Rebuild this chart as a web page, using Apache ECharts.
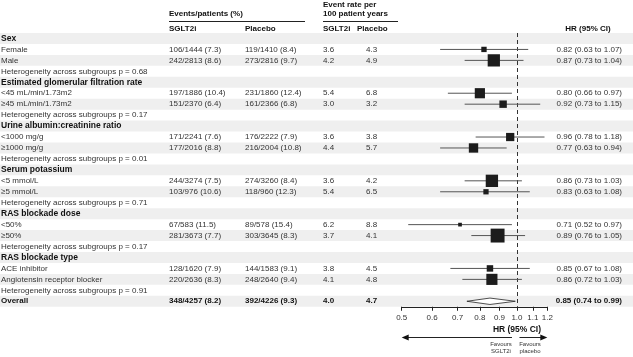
<!DOCTYPE html>
<html>
<head>
<meta charset="utf-8">
<script src="https://cdn.jsdelivr.net/npm/echarts@6/dist/echarts.min.js"></script>
<style>
html, body { margin: 0; padding: 0; background: #fff; }
#chart { width: 633px; height: 357px; }
</style>
</head>
<body>
<div id="chart"></div>
<script>
// row labels, top to bottom
var labels = ['Sex', 'Female', 'Male', 'Heterogeneity across subgroups p = 0.68',
    'Estimated glomerular filtration rate', '<45 mL/min/1.73m2', '\u226545 mL/min/1.73m2', 'Heterogeneity across subgroups p = 0.17',
    'Urine albumin:creatinine ratio', '<1000 mg/g', '\u22651000 mg/g', 'Heterogeneity across subgroups p = 0.01',
    'Serum potassium', '<5 mmol/L', '\u22655 mmol/L', 'Heterogeneity across subgroups p = 0.71',
    'RAS blockade dose', '<50%', '\u226550%', 'Heterogeneity across subgroups p = 0.17',
    'RAS blockade type', 'ACE inhibitor', 'Angiotensin receptor blocker', 'Heterogeneity across subgroups p = 0.91',
    'Overall'];
var boldRows = [0, 4, 8, 12, 16, 20, 24];
var overallRow = 24;

var sgltEvents = [null, 106, 242, null, null, 197, 151, null, null, 171, 177, null, null, 244, 103, null, null, 67, 281, null, null, 128, 220, null, 348];
var sgltPatients = [null, 1444, 2813, null, null, 1886, 2370, null, null, 2241, 2016, null, null, 3274, 976, null, null, 583, 3673, null, null, 1620, 2636, null, 4257];
var sgltPct = [null, 7.3, 8.6, null, null, 10.4, 6.4, null, null, 7.6, 8.8, null, null, 7.5, 10.6, null, null, 11.5, 7.7, null, null, 7.9, 8.3, null, 8.2];
var placeboEvents = [null, 119, 273, null, null, 231, 161, null, null, 176, 216, null, null, 274, 118, null, null, 89, 303, null, null, 144, 248, null, 392];
var placeboPatients = [null, 1410, 2816, null, null, 1860, 2366, null, null, 2222, 2004, null, null, 3260, 960, null, null, 578, 3645, null, null, 1583, 2640, null, 4226];
var placeboPct = [null, 8.4, 9.7, null, null, 12.4, 6.8, null, null, 7.9, 10.8, null, null, 8.4, 12.3, null, null, 15.4, 8.3, null, null, 9.1, 9.4, null, 9.3];
var rateSglt = [null, 3.6, 4.2, null, null, 5.4, 3.0, null, null, 3.6, 4.4, null, null, 3.6, 5.4, null, null, 6.2, 3.7, null, null, 3.8, 4.1, null, 4.0];
var ratePlacebo = [null, 4.3, 4.9, null, null, 6.8, 3.2, null, null, 3.8, 5.7, null, null, 4.2, 6.5, null, null, 8.8, 4.1, null, null, 4.5, 4.8, null, 4.7];
var hr = [null, 0.82, 0.87, null, null, 0.80, 0.92, null, null, 0.96, 0.77, null, null, 0.86, 0.83, null, null, 0.71, 0.89, null, null, 0.85, 0.86, null, 0.85];
var hrLow = [null, 0.63, 0.73, null, null, 0.66, 0.73, null, null, 0.78, 0.63, null, null, 0.73, 0.63, null, null, 0.52, 0.76, null, null, 0.67, 0.72, null, 0.74];
var hrHigh = [null, 1.07, 1.04, null, null, 0.97, 1.15, null, null, 1.18, 0.94, null, null, 1.03, 1.08, null, null, 0.97, 1.05, null, null, 1.08, 1.03, null, 0.99];
var hrTicks = [0.5, 0.6, 0.7, 0.8, 0.9, 1.0, 1.1, 1.2];

var FONT = '"Liberation Sans", Arial, Helvetica, sans-serif';
var TXT = '#333';
var rows = labels.map(function (l, i) { return String(i); });

function f1(v) { return v.toFixed(1); }
function f2(v) { return v.toFixed(2); }

// text cells: [row, x, text, align]
var cells = [];
labels.forEach(function (lab, i) {
    cells.push([i, 1, lab, 'left']);
    if (sgltEvents[i] == null) return;
    cells.push([i, 169, sgltEvents[i] + '/' + sgltPatients[i] + ' (' + f1(sgltPct[i]) + ')', 'left']);
    cells.push([i, 245, placeboEvents[i] + '/' + placeboPatients[i] + ' (' + f1(placeboPct[i]) + ')', 'left']);
    cells.push([i, 323, f1(rateSglt[i]), 'left']);
    cells.push([i, 366, f1(ratePlacebo[i]), 'left']);
    cells.push([i, 622, f2(hr[i]) + ' (' + f2(hrLow[i]) + ' to ' + f2(hrHigh[i]) + ')', 'right']);
});

var forestData = [];
hr.forEach(function (v, i) {
    if (v == null) return;
    forestData.push([i, v, hrLow[i], hrHigh[i], (sgltEvents[i] + placeboEvents[i]) / 42]);
});

var chart = echarts.init(document.getElementById('chart'), null, { renderer: 'canvas' });

var TOP = 33, H = 273.75;

var option = {
    backgroundColor: '#fff',
    animation: false,
    textStyle: { fontFamily: FONT },
    grid: [
        { left: 0, right: 0, top: TOP, height: H },
        { left: 401.7, right: 85.7, top: TOP, height: H }
    ],
    xAxis: [
        { gridIndex: 0, type: 'value', min: 0, max: 633, show: false },
        {
            gridIndex: 1, type: 'log', logBase: 10, min: 0.5, max: 1.2,
            splitLine: { show: false },
            axisLine: { show: true, lineStyle: { color: '#222', width: 1 } },
            axisTick: { show: true, customValues: hrTicks, length: 4, lineStyle: { color: '#222' } },
            axisLabel: {
                customValues: hrTicks, margin: 7, color: '#333', fontSize: 8, fontFamily: FONT,
                formatter: function (v) { return Number(v).toFixed(1); }
            }
        }
    ],
    yAxis: [
        { gridIndex: 0, type: 'category', data: rows, inverse: true, show: false },
        { gridIndex: 1, type: 'category', data: rows, inverse: true, show: false }
    ],
    series: [
        {
            // zebra stripes
            type: 'custom', xAxisIndex: 0, yAxisIndex: 0, z: 0, silent: true,
            data: rows.map(function (r, i) { return [i]; }).filter(function (d) { return d[0] % 2 === 0; }),
            renderItem: function (params, api) {
                var p = api.coord([0, api.value(0)]);
                var h = api.size([0, 1])[1];
                return { type: 'rect', shape: { x: 0, y: p[1] - h / 2, width: 633, height: h }, style: { fill: '#efefef' } };
            }
        },
        {
            // table text
            type: 'custom', xAxisIndex: 0, yAxisIndex: 0, z: 5, silent: true,
            data: cells,
            renderItem: function (params, api) {
                var c = cells[params.dataIndex];
                var p = api.coord([c[1], c[0]]);
                var bold = boldRows.indexOf(c[0]) >= 0;
                var font = bold
                    ? 'bold ' + (c[0] !== overallRow && c[1] === 1 ? '8.5px ' : '8px ') + FONT
                    : '8px ' + FONT;
                return {
                    type: 'text', x: p[0], y: p[1],
                    style: {
                        text: c[2], textAlign: c[3], textVerticalAlign: 'middle',
                        font: font, fill: bold ? '#111' : TXT
                    }
                };
            }
        },
        {
            // whiskers, squares, diamond
            type: 'custom', xAxisIndex: 1, yAxisIndex: 1, z: 10, silent: true, clip: false,
            data: forestData,
            renderItem: function (params, api) {
                var row = api.value(0);
                var c = api.coord([api.value(1), row]);
                var l = api.coord([api.value(2), row]);
                var r = api.coord([api.value(3), row]);
                if (row === overallRow) {
                    var dh = 3.2;
                    return {
                        type: 'polygon',
                        shape: { points: [[l[0], c[1]], [c[0], c[1] - dh], [r[0], c[1]], [c[0], c[1] + dh]] },
                        style: { fill: '#fff', stroke: '#222', lineWidth: 0.8 }
                    };
                }
                var s = api.value(4);
                return {
                    type: 'group',
                    children: [
                        { type: 'line', shape: { x1: l[0], y1: c[1], x2: r[0], y2: c[1] }, style: { stroke: '#555', lineWidth: 1 } },
                        { type: 'rect', shape: { x: c[0] - s / 2, y: c[1] - s / 2, width: s, height: s }, style: { fill: '#1c1c1c' } }
                    ]
                };
            },
            markLine: {
                silent: true, symbol: 'none', animation: false,
                label: { show: false },
                lineStyle: { color: '#333', type: [4, 3], width: 1 },
                data: [{ xAxis: 1 }]
            }
        }
    ]
};
chart.setOption(option);

// header and footer annotations
var one = chart.convertToPixel({ xAxisIndex: 1 }, 1);
var x0 = chart.convertToPixel({ xAxisIndex: 1 }, 0.5);
var x1 = chart.convertToPixel({ xAxisIndex: 1 }, 1.2);
function txt(x, y, s, opt) {
    opt = opt || {};
    return {
        type: 'text', x: x, y: y, silent: true,
        style: {
            text: s, textAlign: opt.align || 'left', textVerticalAlign: 'middle',
            font: (opt.bold ? 'bold ' : '') + (opt.size || 8) + 'px ' + FONT,
            fill: opt.color || '#111'
        }
    };
}
function hline(xa, xb, y) {
    return { type: 'line', silent: true, shape: { x1: xa, y1: y, x2: xb, y2: y }, style: { stroke: '#222', lineWidth: 1 } };
}
var ay = 337.5;
chart.setOption({
    graphic: [
        txt(169, 14, 'Events/patients (%)', { bold: true }),
        hline(169, 305, 21.5),
        txt(323, 4.5, 'Event rate per', { bold: true }),
        txt(323, 14, '100 patient years', { bold: true }),
        hline(323, 398, 21.5),
        txt(169, 29, 'SGLT2i', { bold: true }),
        txt(245, 29, 'Placebo', { bold: true }),
        txt(323, 29, 'SGLT2i', { bold: true }),
        txt(357, 29, 'Placebo', { bold: true }),
        txt(588, 29, 'HR (95% CI)', { bold: true, align: 'center' }),
        txt(one, 329.5, 'HR (95% CI)', { bold: true, align: 'center', size: 8.5 }),
        hline(x0 + 4, one - 5, ay),
        { type: 'polygon', silent: true, shape: { points: [[x0, ay], [x0 + 7, ay - 3], [x0 + 7, ay + 3]] }, style: { fill: '#111' } },
        hline(one + 2.5, x1 - 4, ay),
        { type: 'polygon', silent: true, shape: { points: [[x1, ay], [x1 - 7, ay - 3], [x1 - 7, ay + 3]] }, style: { fill: '#111' } },
        txt(one - 16, 344, 'Favours', { align: 'center', size: 6, color: '#333' }),
        txt(one - 16, 351, 'SGLT2i', { align: 'center', size: 6, color: '#333' }),
        txt(one + 13, 344, 'Favours', { align: 'center', size: 6, color: '#333' }),
        txt(one + 13, 351, 'placebo', { align: 'center', size: 6, color: '#333' })
    ]
});
</script>
</body>
</html>
